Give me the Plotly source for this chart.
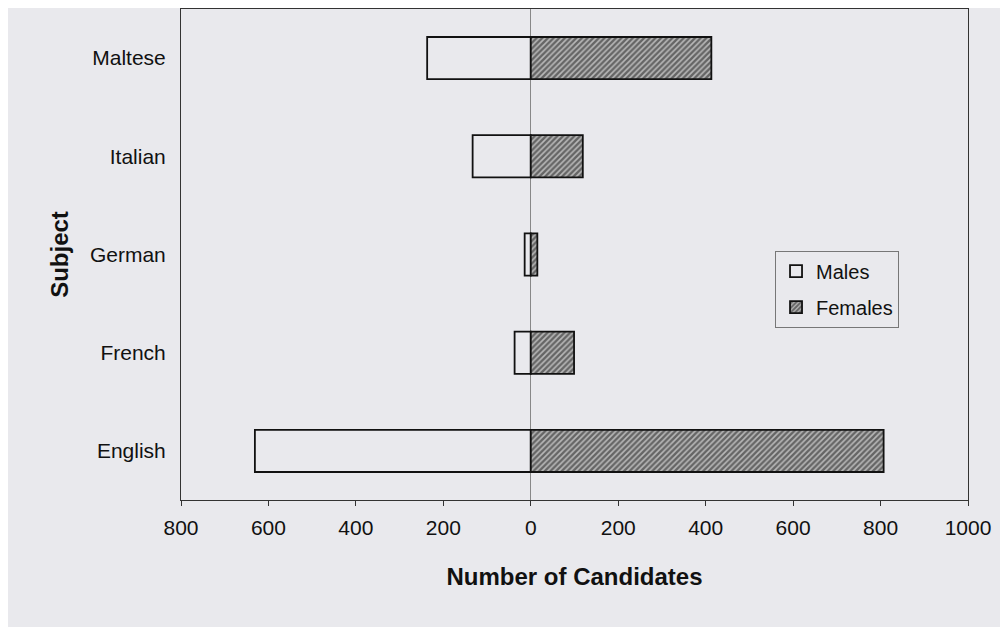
import plotly.graph_objects as go

subjects = ['English', 'French', 'German', 'Italian', 'Maltese']
males = [631, 37, 14, 133, 237]
females = [807, 99, 15, 119, 413]

tick_vals = [-800, -600, -400, -200, 0, 200, 400, 600, 800, 1000]
tick_text = ['800', '600', '400', '200', '0', '200', '400', '600', '800', '1000']

bg = '#e9e9ed'

fig = go.Figure()
fig.add_trace(go.Bar(
    y=subjects, x=[-m for m in males], name='Males', orientation='h',
    legendgroup='m',
    marker=dict(color=bg, line=dict(color='#111111', width=1.8)),
))
fig.add_trace(go.Bar(
    y=subjects, x=females, name='Females', orientation='h',
    legendgroup='f',
    marker=dict(color='#b8b8b8', line=dict(color='#111111', width=1.8),
                pattern=dict(shape='/', fgcolor='#111111', bgcolor='#b8b8b8',
                             size=4, solidity=0.6)),
))

# the page body adds ~8px around the figure, so margins are shifted by that
fig.update_layout(
    barmode='relative', bargap=0.57,
    width=1000, height=619,
    margin=dict(l=173, r=40, t=1, b=127),
    paper_bgcolor=bg, plot_bgcolor=bg,
    font=dict(family='Arial', size=21, color='#111111'),
    legend=dict(x=0.7548, y=0.508, xanchor='left', yanchor='top',
                bgcolor=bg, bordercolor='#777777', borderwidth=1,
                font=dict(size=20), tracegroupgap=7, itemwidth=30),
    showlegend=True,
)
fig.update_xaxes(
    range=[-800, 1000], tickvals=tick_vals, ticktext=tick_text,
    showgrid=False, zeroline=True, zerolinecolor='#888888', zerolinewidth=1,
    showline=True, linecolor='#333333', mirror=True,
    ticks='outside', ticklen=5, tickcolor='#333333', ticklabelstandoff=4,
    title=dict(text='<b>Number of Candidates</b>', font=dict(size=24), standoff=29),
)
fig.update_yaxes(
    showgrid=False, showline=True, linecolor='#333333', mirror=True,
    ticks='', ticklabelstandoff=10,
    title=dict(text='<b>Subject</b>', font=dict(size=24), standoff=14),
)

fig.write_html("out.html")
